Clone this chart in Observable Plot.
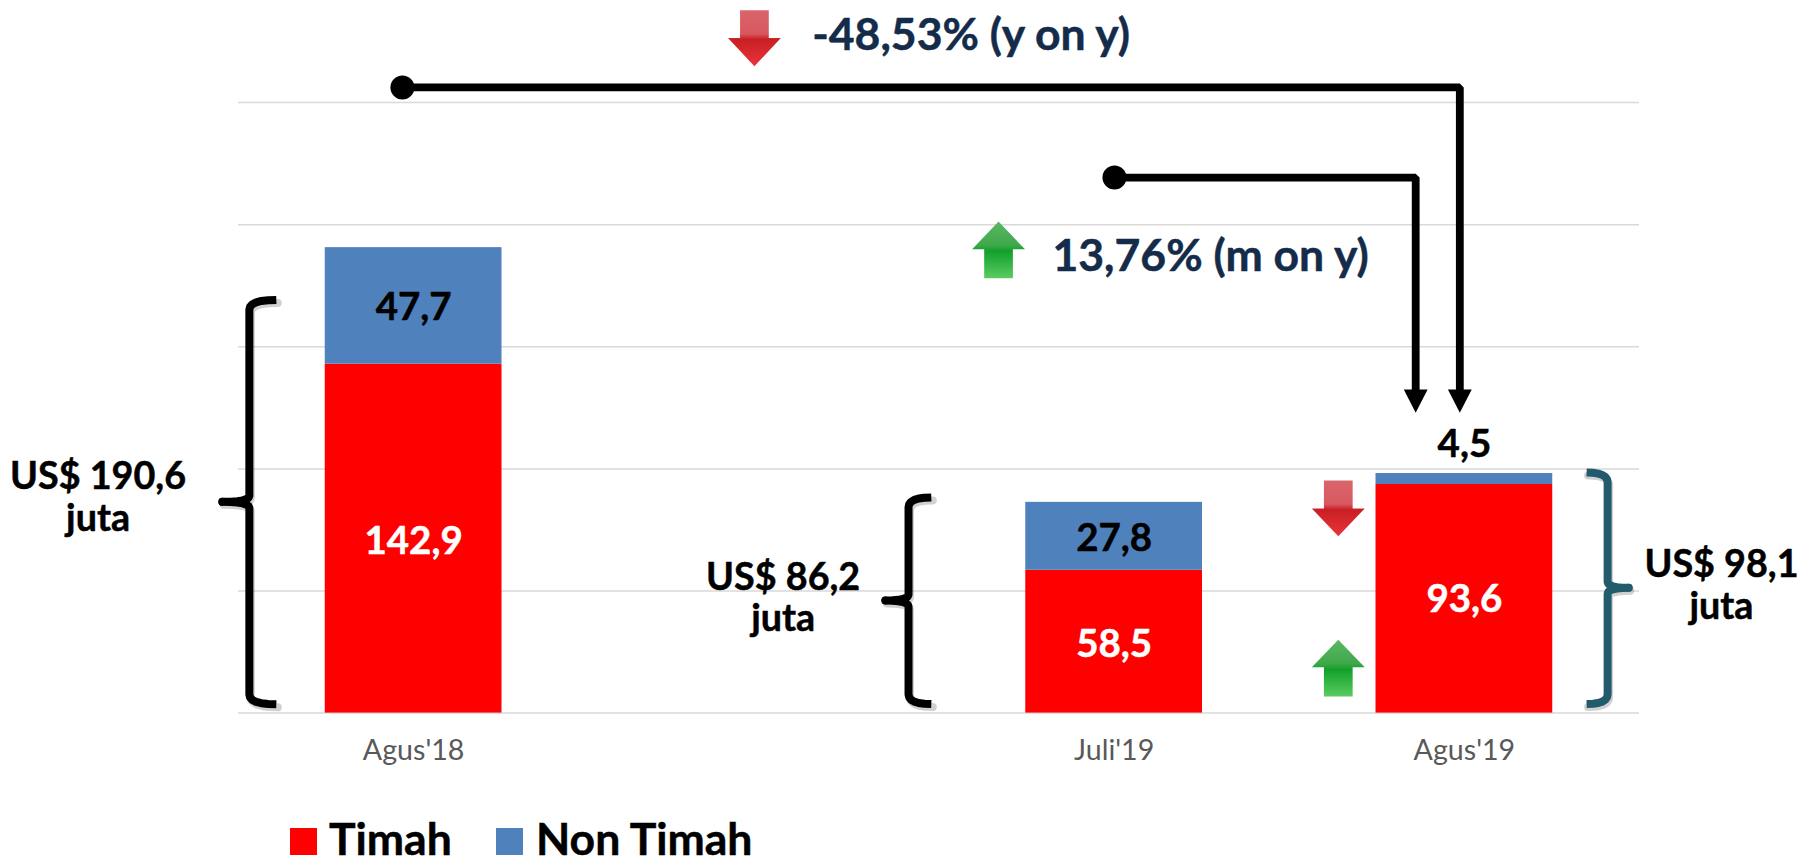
<!DOCTYPE html>
<html>
<head>
<meta charset="utf-8">
<script src="https://cdn.jsdelivr.net/npm/d3@7"></script>
<script src="https://cdn.jsdelivr.net/npm/@observablehq/plot@0.6"></script>
<style>
  html, body { margin: 0; padding: 0; background: #fff; overflow: hidden; }
  #chart svg { display: block; }
  #legend { position: relative; height: 48px; font: 700 44.5px/40px Lato, sans-serif; color: #000; -webkit-text-stroke: 0.5px #000; }
  #legend span { position: absolute; white-space: nowrap; }
  #legend i { position: absolute; top: 18px; width: 27px; height: 27px; }
</style>
</head>
<body>
<div id="chart"></div>
<div id="legend"></div>
<script>
// Categories and their slots on the category axis (slot 1 is an empty category)
const months = ["Agus'18", "Juli'19", "Agus'19"];
const slots = [0, 2, 3];

// Series values (US$ juta)
const timah = [142.9, 58.5, 93.6];
const nonTimah = [47.7, 27.8, 4.5];

// Value labels and where they sit on the value axis
const timahLabels = ["142,9", "58,5", "93,6"];
const timahLabelY = [70.4, 28.2, 46.4];
const nonTimahLabels = ["47,7", "27,8", "4,5"];
const nonTimahLabelY = [165.9, 71.3, 110.1];

const gridValues = [0, 50, 100, 150, 200, 250];
const seriesNames = ["Timah", "Non Timah"];
const seriesColors = ["#ff0000", "#4f81bd"];

// Annotations, in axis units (slot, value)
const totals = [
  {x: -0.901, y: 96.6, t: "US$ 190,6"}, {x: -0.901, y: 79.6, t: "juta"},
  {x: 1.055, y: 55.5, t: "US$ 86,2"}, {x: 1.055, y: 38.7, t: "juta"},
  {x: 3.734, y: 60.6, t: "US$ 98,1"}, {x: 3.734, y: 43.5, t: "juta"}
];
const changes = [
  {x: 1.138, y: 277.2, t: "-48,53% (y on y)"},
  {x: 1.824, y: 186.8, t: "13,76% (m on y)"}
];
const connectors = [
  {dot: [-0.032, 256.2], elbowX: 2.987, headY: 132.5, tipY: 123},
  {dot: [2.001, 219.3], elbowX: 2.861, headY: 132.5, tipY: 123}
];
const braces = [
  {spine: -0.469, end: -0.392, tip: -0.546, top: 169.2, mid: 86.5, bot: 3.6, color: "#000"},
  {spine: 1.413, end: 1.478, tip: 1.347, top: 88.3, mid: 46.1, bot: 3.7, color: "#000"},
  {spine: 3.409, end: 3.349, tip: 3.469, top: 98.5, mid: 51.3, bot: 3.7, color: "#225b6b"}
];
const arrows = [
  {cx: 0.973, base: 287.8, head: 276.4, tip: 264.9, fill: "url(#arrowRed)"},
  {cx: 1.670, base: 178.1, head: 189.9, tip: 201.3, fill: "url(#arrowGreen)"},
  {cx: 2.640, base: 95.2, head: 83.8, tip: 72.4, fill: "url(#arrowRed)"},
  {cx: 2.640, base: 6.8, head: 18.8, tip: 30, fill: "url(#arrowGreen)"}
];

const FONT = "Lato, sans-serif";
const barHalf = 0.2523;

const rows = [
  ...slots.map((s, i) => ({slot: s, series: seriesNames[0], value: timah[i]})),
  ...slots.map((s, i) => ({slot: s, series: seriesNames[1], value: nonTimah[i]}))
];

const q = (p0, c, p1) => d3.range(0, 1.001, 1 / 6).map(t => ({
  x: (1 - t) ** 2 * p0[0] + 2 * (1 - t) * t * c[0] + t * t * p1[0],
  y: (1 - t) ** 2 * p0[1] + 2 * (1 - t) * t * c[1] + t * t * p1[1]
}));
const cornerY = 4, midCornerY = 2.5;
const bracePath = b => [
  ...q([b.end, b.top], [b.spine, b.top], [b.spine, b.top - cornerY]),
  ...q([b.spine, b.mid + midCornerY], [b.spine, b.mid], [b.tip, b.mid]),
  ...q([b.tip, b.mid], [b.spine, b.mid], [b.spine, b.mid - midCornerY]),
  ...q([b.spine, b.bot + cornerY], [b.spine, b.bot], [b.end, b.bot])
];
const arrowShape = a => {
  const st = 0.041, hd = 0.0755;
  return [
    {x: a.cx - st, y: a.base}, {x: a.cx + st, y: a.base},
    {x: a.cx + st, y: a.head}, {x: a.cx + hd, y: a.head},
    {x: a.cx, y: a.tip},
    {x: a.cx - hd, y: a.head}, {x: a.cx - st, y: a.head}
  ];
};
const headShape = c => [
  {x: c.elbowX - 0.034, y: c.headY},
  {x: c.elbowX + 0.034, y: c.headY},
  {x: c.elbowX, y: c.tipY}
];
const connectorPath = c => [
  {x: c.dot[0], y: c.dot[1]},
  {x: c.elbowX, y: c.dot[1]},
  {x: c.elbowX, y: c.headY}
];
const boldText = fill => ({fill, stroke: fill, strokeWidth: 0.5, fontWeight: 700, fontFamily: FONT});

const chart = Plot.plot({
  width: 1813,
  height: 810,
  marginLeft: 238,
  marginRight: 174,
  marginTop: 0,
  marginBottom: 97.4,
  style: {background: "#fff", overflow: "visible"},
  x: {type: "linear", domain: [-0.5, 3.5], axis: null},
  y: {domain: [0, 291.8], axis: null},
  color: {domain: seriesNames, range: seriesColors},
  marks: [
    Plot.ruleY(gridValues, {stroke: "#d9d9d9", strokeWidth: 1.5}),
    Plot.rectY(rows, {
      x1: d => d.slot - barHalf, x2: d => d.slot + barHalf,
      y: "value", fill: "series"
    }),
    Plot.axisX(slots, {
      tickSize: 0, tickPadding: 27, label: null,
      tickFormat: d => months[slots.indexOf(d)],
      fontSize: 28.6, fontFamily: FONT, fill: "#595959", anchor: "bottom"
    }),
    Plot.text(slots, {
      x: d => d, y: (d, i) => timahLabelY[i], text: (d, i) => timahLabels[i],
      fontSize: 38.5, ...boldText("#fff")
    }),
    Plot.text(slots, {
      x: d => d, y: (d, i) => nonTimahLabelY[i], text: (d, i) => nonTimahLabels[i],
      fontSize: 38.5, ...boldText("#000")
    }),
    Plot.text(totals, {
      x: "x", y: "y", text: "t",
      fontSize: 37.7, ...boldText("#000")
    }),
    Plot.text(changes, {
      x: "x", y: "y", text: "t", textAnchor: "start",
      fontSize: 44.5, ...boldText("#142b4a")
    }),
    ...braces.flatMap(b => [
      Plot.line(bracePath(b), {
        x: "x", y: "y", stroke: "#000", strokeOpacity: 0.18, strokeWidth: 8,
        strokeLinejoin: "round", dx: 1.5, dy: 3
      }),
      Plot.line(bracePath(b), {
        x: "x", y: "y", stroke: b.color, strokeWidth: 8,
        strokeLinejoin: "round", strokeLinecap: "butt"
      }),
      Plot.dot([[b.tip, b.mid]], {x: d => d[0], y: d => d[1], r: 4, fill: b.color, stroke: "none"})
    ]),
    ...connectors.flatMap(c => [
      Plot.line(connectorPath(c), {
        x: "x", y: "y", stroke: "#000", strokeWidth: 7.8, strokeLinejoin: "miter"
      }),
      Plot.line(headShape(c), {x: "x", y: "y", fill: "#000", stroke: "none"}),
      Plot.dot([c.dot], {x: d => d[0], y: d => d[1], r: 12, fill: "#000", stroke: "none"})
    ]),
    ...arrows.map(a => Plot.line(arrowShape(a), {x: "x", y: "y", fill: a.fill, stroke: "none"}))
  ]
});

const defs = d3.select(chart).insert("defs", ":first-child");
const addGradient = (id, stops) => {
  const g = defs.append("linearGradient").attr("id", id)
    .attr("x1", 0).attr("x2", 0).attr("y1", 0).attr("y2", 1);
  stops.forEach(([o, c]) => g.append("stop").attr("offset", o).attr("stop-color", c));
};
addGradient("arrowRed", [["0", "#d9656c"], ["0.42", "#d9585f"], ["0.52", "#c91f24"], ["1", "#e8343a"]]);
addGradient("arrowGreen", [["0", "#5cb765"], ["0.42", "#3fa84a"], ["0.52", "#12a02a"], ["1", "#5acb62"]]);

document.getElementById("chart").append(chart);

const legend = d3.select("#legend");
const legendLeft = [290, 496];
seriesNames.forEach((name, i) => {
  legend.append("i").style("left", legendLeft[i] + "px").style("background", seriesColors[i]);
  legend.append("span").style("left", (legendLeft[i] + (i ? 40 : 39)) + "px").style("top", "8px").text(name);
});
</script>
</body>
</html>
